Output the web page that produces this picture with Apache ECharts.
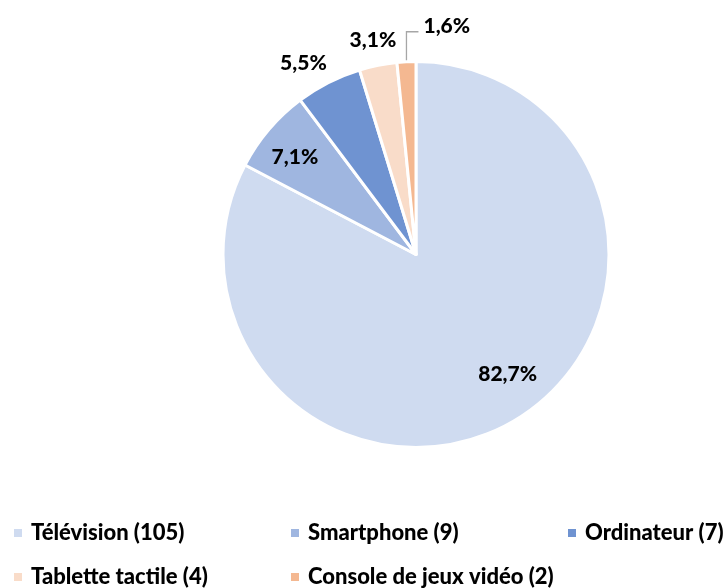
<!DOCTYPE html>
<html><head><meta charset="utf-8">
<script src="https://cdn.jsdelivr.net/npm/echarts@6/dist/echarts.min.js"></script>
<style>html,body{margin:0;padding:0;background:#fff}#c{width:726px;height:588px}</style>
</head><body><div id="c"></div>
<script>
const categories = ['Télévision', 'Smartphone', 'Ordinateur', 'Tablette tactile', 'Console de jeux vidéo'];
const values = [105, 9, 7, 4, 2];
const colors = ['#CFDBF0', '#9FB6E0', '#6F93D1', '#F9DCC9', '#F4B891'];

const CX = 416, CY = 254.5, R = 193;
const total = values.reduce((a, b) => a + b, 0);
function midAngle(i) {
  let before = 0;
  for (let k = 0; k < i; k++) before += values[k];
  return (before + values[i] / 2) / total * 2 * Math.PI;
}
const LABEL_SPEC = [
  { r: 150, dx: 14, dy: -9 },
  { r: 155, dx: -3, dy: 3 },
  { r: 222, dx: -12, dy: 7 },
  { r: 219, dx: 0, dy: 0 },
  { r: R, dx: 0, dy: 0 }
];
const FONT = 'Lato';
const WEIGHT = 900;

const chart = echarts.init(document.getElementById('c'), null, { renderer: 'canvas' });
const legendBase = {
  orient: 'vertical', icon: 'rect', itemWidth: 10, itemHeight: 10, itemGap: 22,
  padding: 0, top: 522, selectedMode: false,
  formatter: name => name + ' (' + values[categories.indexOf(name)] + ')',
  textStyle: { fontFamily: FONT, fontWeight: WEIGHT, fontSize: 22, color: '#000', lineHeight: 22, padding: [0, 0, 0, 3] }
};
chart.setOption({
  animation: false,
  color: colors,
  legend: [
    Object.assign({}, legendBase, { left: 12, data: [categories[0], categories[3]] }),
    Object.assign({}, legendBase, { left: 289, data: [categories[1], categories[4]] }),
    Object.assign({}, legendBase, { left: 566, data: [categories[2]] })
  ],
  series: [{
    type: 'pie',
    center: [CX, CY],
    radius: [0, R],
    startAngle: 90,
    clockwise: true,
    avoidLabelOverlap: false,
    silent: true,
    itemStyle: { borderColor: '#fff', borderWidth: 3 },
    label: {
      show: true, position: 'outside', color: '#000',
      fontFamily: FONT, fontWeight: WEIGHT, fontSize: 21,
      formatter: p => (values[p.dataIndex] / total * 100).toFixed(1).replace('.', ',') + '%'
    },
    labelLine: { show: false },
    labelLayout: function (p) {
      const i = p.dataIndex;
      const a = midAngle(i);
      if (i === 4) {
        const ex = CX + R * Math.sin(a), ey = CY - R * Math.cos(a);
        const ky = ey - 30, kx = ex + 12;
        return { x: kx + 5, y: ky - 6, align: 'left', verticalAlign: 'middle',
                 labelLinePoints: [[ex, ey], [ex, ky], [kx, ky]] };
      }
      const s = LABEL_SPEC[i];
      return { x: CX + s.r * Math.sin(a) + s.dx, y: CY - s.r * Math.cos(a) + s.dy,
               align: 'center', verticalAlign: 'middle' };
    },
    data: categories.map((name, i) => {
      const d = { name: name, value: values[i] };
      if (i === 4) d.labelLine = { show: true, length: 20, length2: 10, lineStyle: { color: '#A6A6A6', width: 1.3 } };
      return d;
    })
  }]
});
</script></body></html>
